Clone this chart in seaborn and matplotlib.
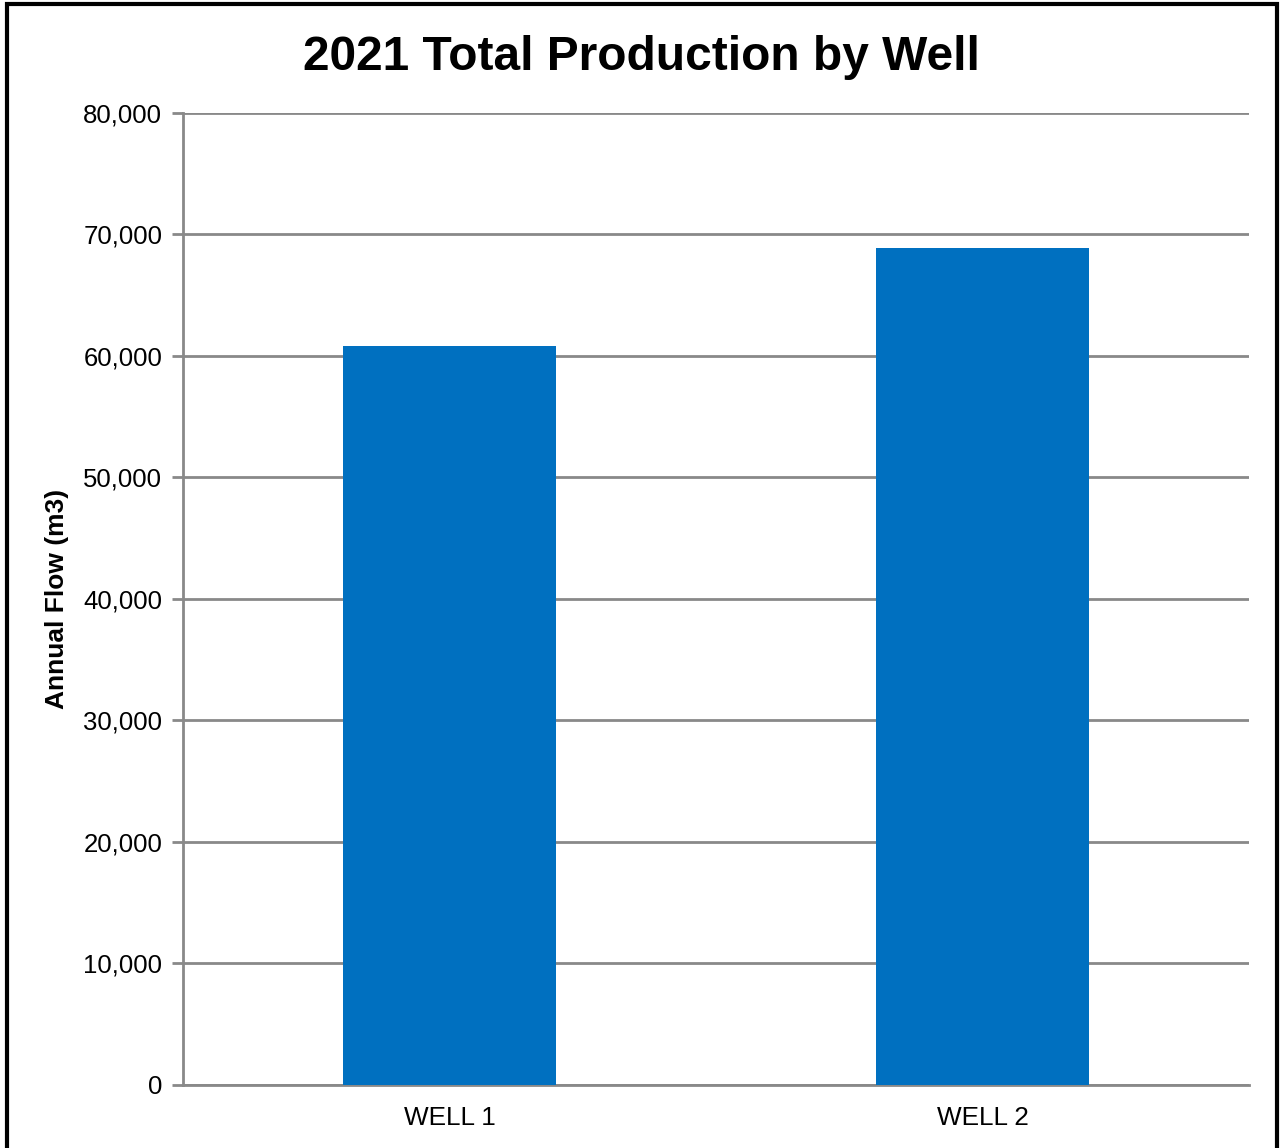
import matplotlib
matplotlib.use("Agg")
import matplotlib.pyplot as plt
import matplotlib.ticker as mticker
from matplotlib.patches import Rectangle
import pandas as pd
import seaborn as sns

wells = ["WELL 1", "WELL 2"]
annual_flow = [60850, 68900]

sns.set_theme(style="white")
plt.rcParams['font.family'] = ['Liberation Sans', 'DejaVu Sans']

df = pd.DataFrame({"well": wells, "flow": annual_flow})

fig = plt.figure(figsize=(12.8, 11.48), dpi=100)
ax = fig.add_axes([0.143, 0.0549, 0.833, 0.8467])

sns.barplot(data=df, x="well", y="flow", color="#0070C0", width=0.4,
            saturation=1, linewidth=0, ax=ax, zorder=3)

ax.set_ylim(0, 80000)
ax.set_yticks(range(0, 80001, 10000))
ax.yaxis.set_major_formatter(mticker.FuncFormatter(lambda v, p: f"{int(v):,}"))
ax.grid(axis="y", color="#898989", linewidth=2, zorder=0)
ax.set_axisbelow(True)

for s in ["top", "right"]:
    ax.spines[s].set_visible(False)
for s in ["left", "bottom"]:
    ax.spines[s].set_color("#898989")
    ax.spines[s].set_linewidth(2)

ax.tick_params(axis="y", which="major", left=True, length=8, width=2,
               color="#898989", labelsize=18.5, pad=7, labelcolor="black")
ax.tick_params(axis="x", bottom=False, labelsize=18.8, pad=9, labelcolor="black")

ax.set_xlabel("")
ax.set_ylabel("Annual Flow (m3)", fontsize=19, fontweight="bold", labelpad=10,
              color="black")

fig.text(0.501, 1 - 70 / 1148, "2021 Total Production by Well", fontsize=34.5,
         fontweight="bold", ha="center", va="baseline", color="black")

frame = Rectangle((0.0055, -0.01), 0.9925, 1.0065, transform=fig.transFigure,
                  fill=False, edgecolor="black", linewidth=3)
fig.patches.append(frame)

fig.savefig("out.png", dpi=100)
